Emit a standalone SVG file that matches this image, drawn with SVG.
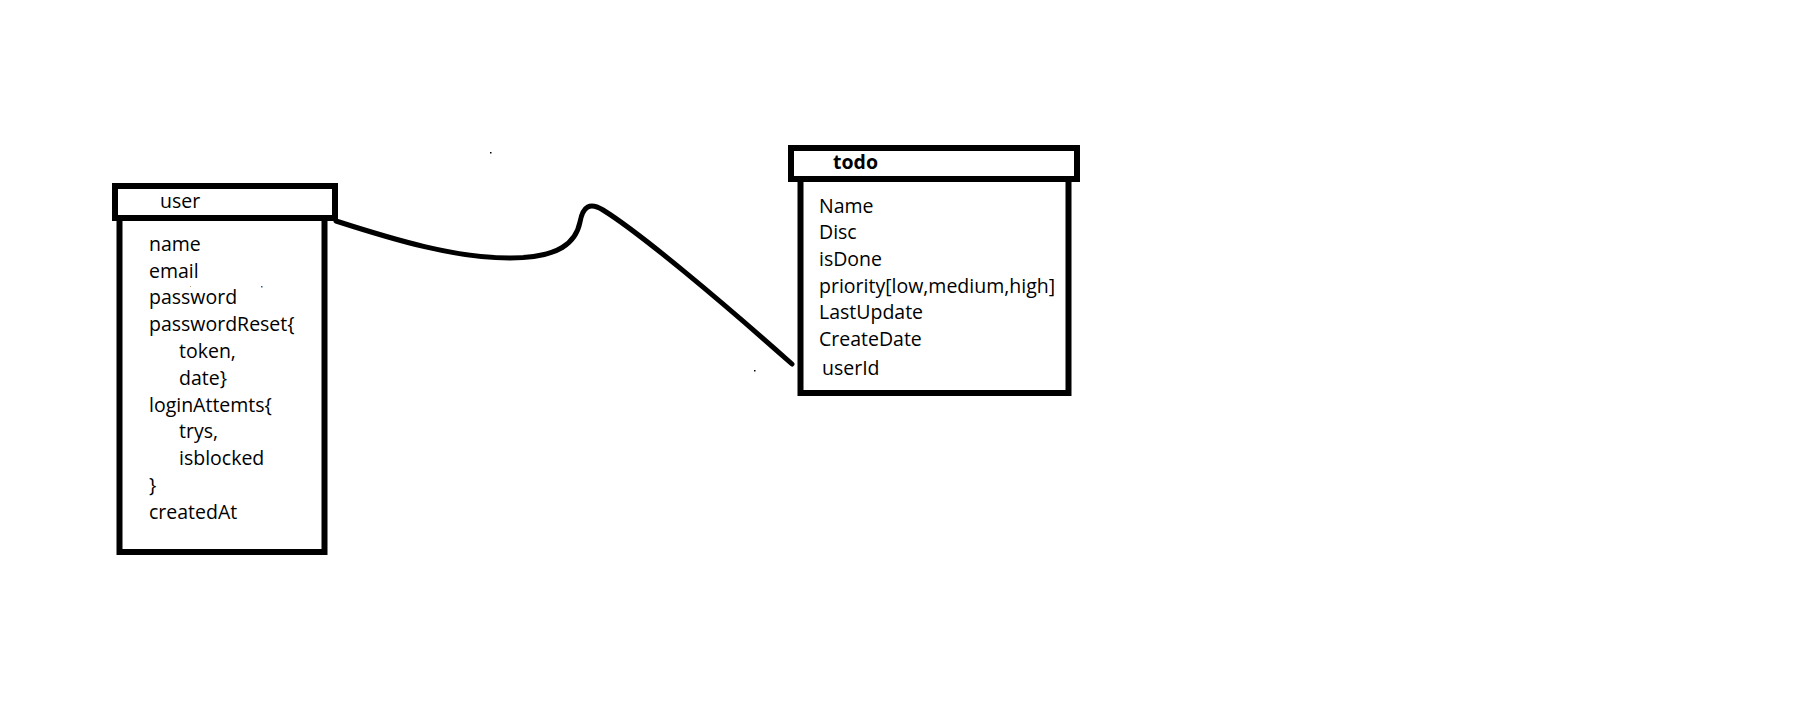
<svg xmlns="http://www.w3.org/2000/svg" width="1817" height="721" viewBox="0 0 1817 721">
<style>
.box{fill:none;stroke:#000;stroke-width:6}
.t{font-family:"Open Sans","Liberation Sans",sans-serif;font-size:19.5px;fill:#000}
.b{font-weight:bold}
.conn{fill:none;stroke:#000;stroke-width:5;stroke-linecap:round;stroke-linejoin:round}
</style>
<rect width="1817" height="721" fill="#fff"/>
<g id="connectors">
<path class="conn" d="M336,221 C395,240 455,258 510,258 C560,258 576,242 580,222 C583,206 590,202 603,210 C640,233 720,300 792,364"/>
</g>
<g id="user">
<rect class="box" x="115" y="186" width="220" height="32"/>
<path class="box" d="M119.5,221 V552 H324.5 V221"/>
<text class="t" x="160" y="208">user</text>
<text class="t" x="149" y="251">name</text>
<text class="t" x="149" y="278">email</text>
<text class="t" x="149" y="304">password</text>
<text class="t" x="149" y="331">passwordReset{</text>
<text class="t" x="179" y="358">token,</text>
<text class="t" x="179" y="385">date}</text>
<text class="t" x="149" y="412">loginAttemts{</text>
<text class="t" x="179" y="438">trys,</text>
<text class="t" x="179" y="465">isblocked</text>
<text class="t" x="149" y="492">}</text>
<text class="t" x="149" y="519">createdAt</text>
</g>
<g id="todo">
<rect class="box" x="791" y="148" width="286" height="31"/>
<path class="box" d="M800.5,182 V393 H1068.5 V182"/>
<text class="t b" x="833" y="169">todo</text>
<text class="t" x="819" y="213">Name</text>
<text class="t" x="819" y="239">Disc</text>
<text class="t" x="819" y="266">isDone</text>
<text class="t" x="819" y="293">priority[low,medium,high]</text>
<text class="t" x="819" y="319">LastUpdate</text>
<text class="t" x="819" y="346">CreateDate</text>
<text class="t" x="822" y="375">userId</text>
</g>
<rect x="490" y="152" width="1.5" height="1.5" fill="#000"/>
<rect x="261" y="286" width="1.5" height="1.5" fill="#1565a8"/>
<rect x="190" y="286" width="1" height="1" fill="#c9a070"/>
<rect x="754" y="370" width="1.5" height="1.5" fill="#000"/>
</svg>
